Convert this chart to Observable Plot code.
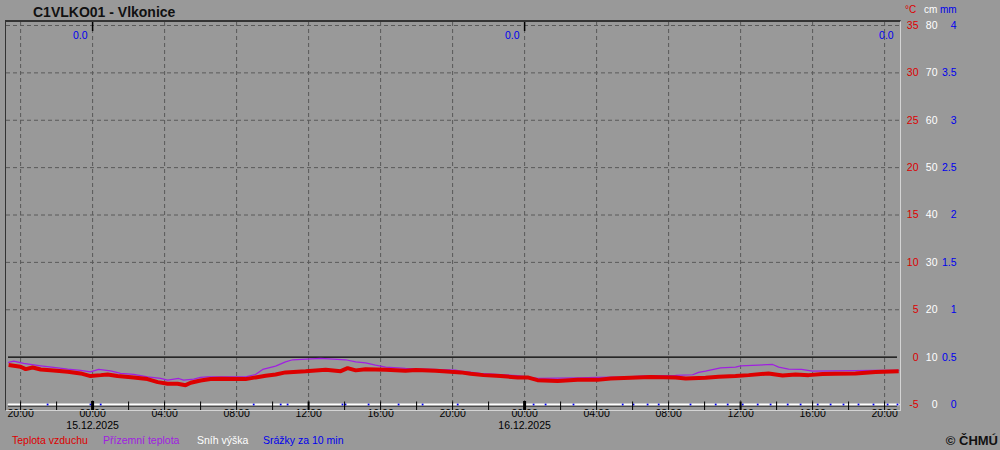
<!DOCTYPE html>
<html><head><meta charset="utf-8">
<script src="https://cdn.jsdelivr.net/npm/d3@7"></script>
<script src="https://cdn.jsdelivr.net/npm/@observablehq/plot@0.6"></script>
<style>
body{margin:0;background:#999999;font-family:"Liberation Sans",Arial,sans-serif;}
#wrap{position:relative;width:1000px;height:450px;overflow:hidden;background:#999999;}
#chart{position:absolute;left:0;top:0;}
#frame{position:absolute;left:5px;top:20px;width:894px;height:388px;border-left:1px solid #333;border-top:2px solid #333;border-right:1px solid #d4d4d4;border-bottom:1px solid #d4d4d4;}
.t{position:absolute;white-space:nowrap;font-size:10.5px;line-height:13px;}
</style></head><body>
<div id="wrap">
  <div id="chart"></div>
  <div id="frame"></div>
  <div class="t" style="left:33px;top:4px;font-size:14px;font-weight:bold;line-height:16px;color:#111">C1VLKO01 - Vlkonice</div>
  <div class="t" style="left:905px;top:3px;font-size:10px;color:#dd0000">°C</div>
  <div class="t" style="left:924px;top:3px;font-size:10px;color:#ffffff">cm</div>
  <div class="t" style="left:940px;top:3px;font-size:10px;color:#0000ee">mm</div>
  <div class="t" style="left:12px;top:434px;color:#dd0000">Teplota vzduchu</div>
  <div class="t" style="left:103px;top:434px;color:#a020e0">Přízemní teplota</div>
  <div class="t" style="left:197px;top:434px;color:#ffffff">Sníh výška</div>
  <div class="t" style="left:263px;top:434px;color:#0000ee">Srážky za 10 min</div>
  <div class="t" style="right:2px;top:433px;font-size:13px;line-height:15px;font-weight:bold;color:#111">© ČHMÚ</div>
</div>
<script>
// ---- data ----
const xStart = "2025-12-14 19:13";
const xEnd = "2025-12-16 20:53";

const airTimes = [
  "2025-12-14 19:20","2025-12-14 20:00","2025-12-14 20:17","2025-12-14 20:40","2025-12-14 21:07",
  "2025-12-14 21:50","2025-12-14 22:37","2025-12-14 23:20","2025-12-14 23:53","2025-12-15 00:27",
  "2025-12-15 00:50","2025-12-15 01:23","2025-12-15 02:17","2025-12-15 03:03","2025-12-15 03:37",
  "2025-12-15 04:10","2025-12-15 04:43","2025-12-15 05:10","2025-12-15 05:27","2025-12-15 06:00",
  "2025-12-15 06:33","2025-12-15 07:07","2025-12-15 08:30","2025-12-15 09:03","2025-12-15 09:37",
  "2025-12-15 10:10","2025-12-15 10:43","2025-12-15 11:50","2025-12-15 12:57","2025-12-15 13:47",
  "2025-12-15 14:10","2025-12-15 14:37","2025-12-15 15:10","2025-12-15 16:17","2025-12-15 17:23",
  "2025-12-15 17:57","2025-12-15 19:03","2025-12-15 19:53","2025-12-15 20:27","2025-12-15 21:00",
  "2025-12-15 21:43","2025-12-15 22:40","2025-12-15 23:37","2025-12-16 00:10","2025-12-16 00:43",
  "2025-12-16 01:50","2025-12-16 02:57","2025-12-16 04:03","2025-12-16 04:47","2025-12-16 05:53",
  "2025-12-16 07:00","2025-12-16 08:23","2025-12-16 08:57","2025-12-16 10:03","2025-12-16 10:47",
  "2025-12-16 11:43","2025-12-16 12:27","2025-12-16 13:33","2025-12-16 14:20","2025-12-16 15:03",
  "2025-12-16 15:47","2025-12-16 16:33","2025-12-16 17:17","2025-12-16 18:23","2025-12-16 19:30",
  "2025-12-16 20:47"
];
const airValues = [
  -0.84,-1.02,-1.27,-1.09,-1.30,
  -1.40,-1.55,-1.72,-2.00,-1.90,
  -1.83,-2.00,-2.14,-2.32,-2.64,
  -2.82,-2.82,-2.96,-2.71,-2.46,
  -2.32,-2.29,-2.32,-2.14,-1.97,
  -1.83,-1.61,-1.48,-1.34,-1.48,
  -1.16,-1.40,-1.27,-1.34,-1.45,
  -1.37,-1.45,-1.55,-1.61,-1.76,
  -1.90,-2.00,-2.14,-2.14,-2.43,
  -2.53,-2.40,-2.40,-2.25,-2.18,
  -2.11,-2.14,-2.25,-2.18,-2.08,
  -2.00,-1.90,-1.72,-1.93,-1.83,
  -1.90,-1.79,-1.76,-1.72,-1.58,
  -1.48
];

const groundTimes = [
  "2025-12-14 19:20","2025-12-14 19:37","2025-12-14 20:10","2025-12-14 21:07","2025-12-14 21:50",
  "2025-12-14 22:37","2025-12-14 23:20","2025-12-14 23:53","2025-12-15 00:20","2025-12-15 01:00",
  "2025-12-15 01:33","2025-12-15 02:17","2025-12-15 03:03","2025-12-15 03:47","2025-12-15 04:10",
  "2025-12-15 04:47","2025-12-15 05:03","2025-12-15 05:37","2025-12-15 06:00","2025-12-15 06:23",
  "2025-12-15 08:30","2025-12-15 09:03","2025-12-15 09:27","2025-12-15 10:10","2025-12-15 10:43",
  "2025-12-15 11:07","2025-12-15 12:40","2025-12-15 14:03","2025-12-15 14:37","2025-12-15 15:10",
  "2025-12-15 15:43","2025-12-15 16:17","2025-12-15 17:23","2025-12-15 18:30","2025-12-15 20:10",
  "2025-12-15 20:27","2025-12-15 21:33","2025-12-15 22:40","2025-12-15 23:37","2025-12-16 00:43",
  "2025-12-16 02:57","2025-12-16 04:03","2025-12-16 05:43","2025-12-16 07:00","2025-12-16 08:23",
  "2025-12-16 09:20","2025-12-16 09:40","2025-12-16 10:03","2025-12-16 10:53","2025-12-16 11:43",
  "2025-12-16 12:00","2025-12-16 13:47","2025-12-16 14:07","2025-12-16 14:40","2025-12-16 15:23",
  "2025-12-16 16:00","2025-12-16 19:30","2025-12-16 20:47"
];
const groundValues = [
  -0.56,-0.42,-0.66,-0.92,-1.09,
  -1.27,-1.40,-1.55,-1.30,-1.45,
  -1.72,-1.83,-2.08,-2.25,-2.43,
  -2.25,-2.43,-2.32,-2.14,-2.08,
  -2.08,-1.83,-1.30,-0.95,-0.50,
  -0.28,-0.14,-0.28,-0.50,-0.60,
  -0.84,-1.06,-1.19,-1.27,-1.37,
  -1.48,-1.72,-1.84,-1.95,-2.25,
  -2.18,-2.14,-2.08,-1.95,-1.93,
  -1.86,-1.61,-1.48,-1.13,-1.06,
  -0.92,-0.77,-1.06,-1.27,-1.30,
  -1.48,-1.40,-1.40
];

// snow height (cm)
const snowTimes = ["2025-12-14 19:20","2025-12-16 20:47"];
const snowValues = [0, 0];

// precipitation 10 min markers (mm)
const precipTimes = [
  "2025-12-14 21:30","2025-12-14 23:53","2025-12-15 00:27","2025-12-15 08:57","2025-12-15 10:27",
  "2025-12-15 10:50","2025-12-15 13:53","2025-12-15 14:03","2025-12-15 15:20","2025-12-15 17:00",
  "2025-12-15 18:20","2025-12-15 20:17","2025-12-16 00:30","2025-12-16 01:10","2025-12-16 02:43",
  "2025-12-16 05:27","2025-12-16 06:03","2025-12-16 06:50","2025-12-16 07:27","2025-12-16 09:13",
  "2025-12-16 10:37","2025-12-16 11:17","2025-12-16 12:07","2025-12-16 12:57","2025-12-16 13:40",
  "2025-12-16 14:37","2025-12-16 15:20","2025-12-16 16:17","2025-12-16 17:00","2025-12-16 17:43",
  "2025-12-16 18:33","2025-12-16 19:23","2025-12-16 20:10","2025-12-16 20:43"
];
const precipValues = precipTimes.map(() => 0);

// daily precipitation sums
const daySumTimes = ["2025-12-15 00:00","2025-12-16 00:00","2025-12-16 20:47"];
const daySumLabels = ["0.0","0.0","0.0"];

// axis labels
const tempTicks = [-5,0,5,10,15,20,25,30,35];
const snowTicks = [0,10,20,30,40,50,60,70,80];
const precipTicks = ["0","0.5","1","1.5","2","2.5","3","3.5","4"];
const hourLabelTimes = [
  "2025-12-14 20:00","2025-12-15 00:00","2025-12-15 04:00","2025-12-15 08:00","2025-12-15 12:00",
  "2025-12-15 16:00","2025-12-15 20:00","2025-12-16 00:00","2025-12-16 04:00","2025-12-16 08:00",
  "2025-12-16 12:00","2025-12-16 16:00","2025-12-16 20:00"
];
const hourLabels = ["20:00","00:00","04:00","08:00","12:00","16:00","20:00","00:00","04:00","08:00","12:00","16:00","20:00"];
const dateLabelTimes = ["2025-12-15 00:00","2025-12-16 00:00"];
const dateLabels = ["15.12.2025","16.12.2025"];

// ---- build ----
const parse = d3.utcParse("%Y-%m-%d %H:%M");
const air = airTimes.map((t, i) => ({t: parse(t), v: airValues[i]}));
const ground = groundTimes.map((t, i) => ({t: parse(t), v: groundValues[i]}));
const snow = snowTimes.map((t, i) => ({t: parse(t), v: snowValues[i] / 2 - 5}));
const precip = precipTimes.map((t, i) => ({t: parse(t), v: precipValues[i] * 10 - 5}));
const daySums = daySumTimes.map((t, i) => ({t: parse(t), s: daySumLabels[i]}));
const hourLbl = hourLabelTimes.map((t, i) => ({t: parse(t), s: hourLabels[i]}));
const dateLbl = dateLabelTimes.map((t, i) => ({t: parse(t), s: dateLabels[i]}));

const x0 = parse(xStart), x1 = parse(xEnd);
const grid4 = d3.utcHour.every(4).range(x0, x1);
const ticks2 = d3.utcHour.every(2).range(x0, x1);
const midnights = ticks2.filter(d => d.getUTCHours() === 0);
const noons = ticks2.filter(d => d.getUTCHours() === 12);
const others = ticks2.filter(d => d.getUTCHours() % 12 !== 0);

const red = "#dd0000", purple = "#a020e0", blue = "#0000ee";

const chart = Plot.plot({
  width: 1000, height: 450,
  marginLeft: 6, marginRight: 100, marginTop: 25, marginBottom: 46,
  style: {background: "transparent", fontFamily: "Liberation Sans, Arial, sans-serif", fontSize: "10.5px", overflow: "visible"},
  x: {type: "utc", domain: [x0, x1], axis: null},
  y: {domain: [-5, 35], axis: null},
  marks: [
    Plot.ruleX(grid4, {x: d => d, stroke: "#5a5a5a", strokeDasharray: "4,3", strokeWidth: 1, insetTop: -3}),
    Plot.ruleY(tempTicks.filter(d => d > 0), {y: d => d, stroke: "#5a5a5a", strokeDasharray: "4,3", strokeWidth: 1}),
    Plot.ruleY([0], {y: d => d, stroke: "#000", strokeWidth: 1.2, insetLeft: 2, insetRight: 3}),
    // top midnight marks
    Plot.ruleX(midnights, {x: d => d, y1: 35, y2: 35, insetTop: -5, insetBottom: -6, stroke: "#000", strokeWidth: 1.5}),
    // bottom baseline (precip zero) + snow line
    Plot.ruleY([-5], {y: d => d, stroke: "#000", strokeWidth: 1, dy: 1.5, insetLeft: 2, insetRight: 3}),
    Plot.line(snow, {x: "t", y: "v", stroke: "#ffffff", strokeWidth: 2}),
    Plot.dot(precip, {x: "t", y: "v", symbol: "square", r: 1, fill: blue, stroke: "none"}),
    // bottom ticks
    Plot.ruleX(others, {x: d => d, y1: -5, y2: -5, insetTop: -2.5, insetBottom: -6, stroke: "#000", strokeWidth: 1}),
    Plot.ruleX(noons, {x: d => d, y1: -5, y2: -5, insetTop: -2.5, insetBottom: -6, stroke: "#000", strokeWidth: 2}),
    Plot.ruleX(midnights, {x: d => d, y1: -5, y2: -5, insetTop: -3, insetBottom: -6, stroke: "#000", strokeWidth: 3}),
    // series
    Plot.line(ground, {x: "t", y: "v", stroke: purple, strokeWidth: 1.2}),
    Plot.line(air, {x: "t", y: "v", stroke: red, strokeWidth: 4, strokeLinejoin: "miter", strokeLinecap: "butt"}),
    // daily sums
    Plot.text(daySums, {x: "t", y: () => 35, text: "s", dy: 10.5, dx: -5, textAnchor: "end", fill: blue, fontSize: 10.5}),
    // right axes
    Plot.text(tempTicks, {y: d => d, text: d => String(d), frameAnchor: "right", dx: 18, textAnchor: "end", fill: red, fontSize: 10.5}),
    Plot.text(snowTicks, {y: d => d / 2 - 5, text: d => String(d), frameAnchor: "right", dx: 37, textAnchor: "end", fill: "#ffffff", fontSize: 10.5}),
    Plot.text(precipTicks, {y: d => +d * 10 - 5, text: d => d, frameAnchor: "right", dx: 56, textAnchor: "end", fill: blue, fontSize: 10.5}),
    // bottom axis labels
    Plot.text(hourLbl, {x: "t", text: "s", frameAnchor: "bottom", dy: 12.5, fill: "#000", fontSize: 10.5}),
    Plot.text(dateLbl, {x: "t", text: "s", frameAnchor: "bottom", dy: 24, fill: "#000", fontSize: 10.5})
  ]
});
document.getElementById("chart").appendChild(chart);
</script>
</body></html>
